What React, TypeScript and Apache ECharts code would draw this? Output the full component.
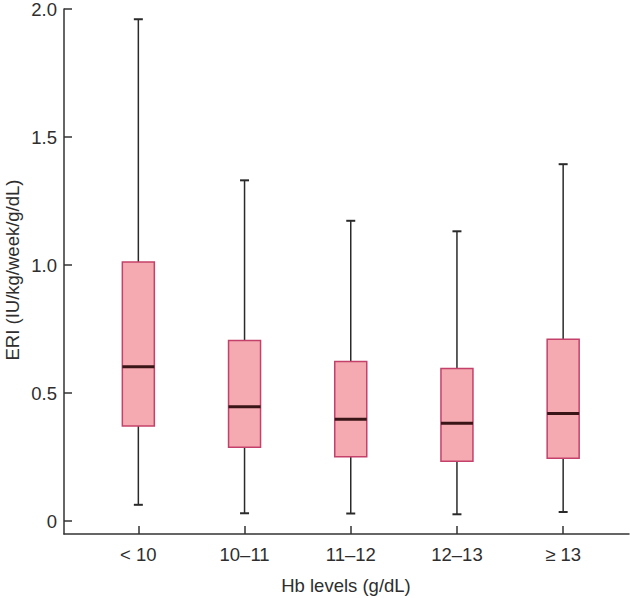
import React, { useEffect, useRef } from "react";
import * as echarts from "echarts";

const categories = ["< 10", "10–11", "11–12", "12–13", "≥ 13"];
const whiskerLow = [0.064, 0.031, 0.030, 0.027, 0.036];
const q1 = [0.372, 0.289, 0.252, 0.234, 0.246];
const median = [0.603, 0.447, 0.398, 0.382, 0.421];
const q3 = [1.012, 0.706, 0.624, 0.596, 0.71];
const whiskerHigh = [1.96, 1.331, 1.173, 1.132, 1.394];
const yTicks = [0, 0.5, 1.0, 1.5, 2.0];
const xTitle = "Hb levels (g/dL)";
const yTitle = "ERI (IU/kg/week/g/dL)";

const TEXT = "#2e2e2e";
const FONT = "'Liberation Sans', Arial, Helvetica, sans-serif";

export default function App() {
  const ref = useRef<HTMLDivElement>(null);
  useEffect(() => {
    if (!ref.current) return;
    const chart = echarts.init(ref.current, undefined, { renderer: "svg" });
    const data = categories.map((_, i) => [i, whiskerLow[i], q1[i], median[i], q3[i], whiskerHigh[i]]);
    chart.setOption({
      animation: false,
      backgroundColor: "#ffffff",
      grid: { left: 64, right: 1, top: 9, bottom: 64, outerBoundsMode: "none" },
      graphic: [
        {
          type: "text",
          x: 346,
          y: 585,
          style: {
            text: xTitle,
            fill: TEXT,
            fontSize: 18.5,
            fontFamily: FONT,
            align: "center",
            verticalAlign: "middle",
          },
        },
        {
          type: "text",
          x: 12,
          y: 270,
          rotation: Math.PI / 2,
          style: {
            text: yTitle,
            fill: TEXT,
            fontSize: 18.5,
            fontFamily: FONT,
            align: "center",
            verticalAlign: "middle",
          },
        },
      ],
      xAxis: {
        type: "value",
        min: -0.7,
        max: 4.62,
        splitLine: { show: false },
        axisLine: { show: true, onZero: false, lineStyle: { color: "#333", width: 1.5 } },
        axisTick: {
          show: true,
          inside: true,
          length: 8,
          customValues: categories.map((_, i) => i),
          lineStyle: { color: "#333", width: 1.5 },
        },
        axisLabel: {
          customValues: categories.map((_, i) => i),
          formatter: (v: number) => categories[Math.round(v)] ?? "",
          color: TEXT,
          fontSize: 18.5,
          fontFamily: FONT,
          margin: 11,
        },
      },
      yAxis: {
        type: "value",
        min: -0.05,
        max: 2.0,
        splitLine: { show: false },
        axisLine: { show: true, onZero: false, lineStyle: { color: "#333", width: 1.5 } },
        axisTick: {
          show: true,
          inside: true,
          length: 8,
          customValues: yTicks,
          lineStyle: { color: "#333", width: 1.5 },
        },
        axisLabel: {
          customValues: yTicks,
          formatter: (v: number) => (v === 0 ? "0" : v.toFixed(1)),
          color: TEXT,
          fontSize: 18.5,
          fontFamily: FONT,
          margin: 7,
        },
      },
      series: [
        {
          type: "custom",
          data,
          encode: { x: 0, y: [1, 2, 3, 4, 5] },
          renderItem: (params: any, api: any) => {
            const x = api.value(0);
            const pLow = api.coord([x, api.value(1)]);
            const pQ1 = api.coord([x, api.value(2)]);
            const pMed = api.coord([x, api.value(3)]);
            const pQ3 = api.coord([x, api.value(4)]);
            const pHigh = api.coord([x, api.value(5)]);
            const cx = pLow[0];
            const half = 16;
            const cap = 4.5;
            const whisk = { stroke: "#2a2a2a", lineWidth: 1.5 };
            const capStyle = { stroke: "#2a2a2a", lineWidth: 2 };
            return {
              type: "group",
              children: [
                { type: "line", shape: { x1: cx, y1: pQ3[1], x2: cx, y2: pHigh[1] }, style: whisk },
                { type: "line", shape: { x1: cx, y1: pQ1[1], x2: cx, y2: pLow[1] }, style: whisk },
                { type: "line", shape: { x1: cx - cap, y1: pHigh[1], x2: cx + cap, y2: pHigh[1] }, style: capStyle },
                { type: "line", shape: { x1: cx - cap, y1: pLow[1], x2: cx + cap, y2: pLow[1] }, style: capStyle },
                {
                  type: "rect",
                  shape: { x: cx - half, y: pQ3[1], width: half * 2, height: pQ1[1] - pQ3[1] },
                  style: { fill: "#f4aab0", stroke: "#c3416a", lineWidth: 1.5 },
                },
                {
                  type: "line",
                  shape: { x1: cx - half, y1: pMed[1], x2: cx + half, y2: pMed[1] },
                  style: { stroke: "#3a1518", lineWidth: 3 },
                },
              ],
            };
          },
        },
      ],
    });
    return () => chart.dispose();
  }, []);
  return <div ref={ref} style={{ position: "absolute", left: 0, top: 0, width: 630, height: 598 }} />;
}
